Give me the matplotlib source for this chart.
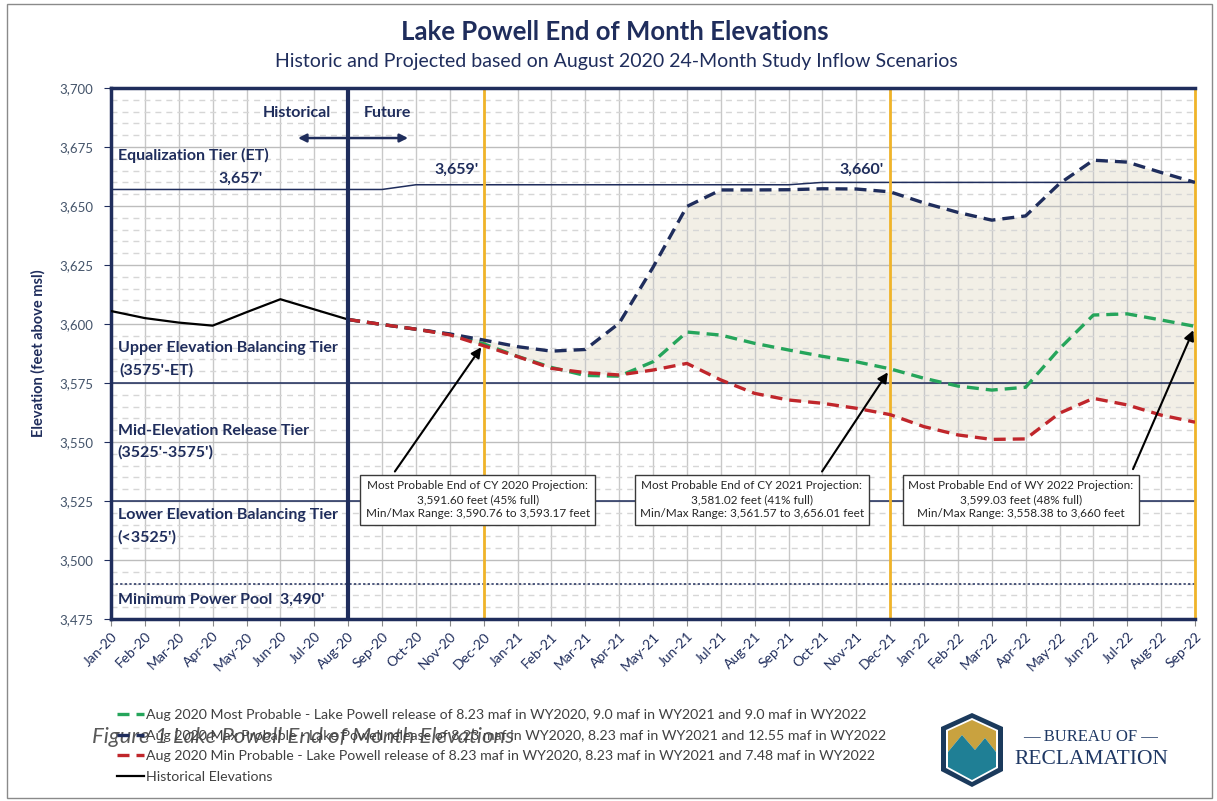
import numpy as np
import matplotlib
matplotlib.use("Agg")
import matplotlib.pyplot as plt
from matplotlib.patches import Polygon, Rectangle

plt.rcParams['font.family'] = ['Lato', 'DejaVu Sans']

# data
months = ['Jan-20', 'Feb-20', 'Mar-20', 'Apr-20', 'May-20', 'Jun-20', 'Jul-20', 'Aug-20',
          'Sep-20', 'Oct-20', 'Nov-20', 'Dec-20', 'Jan-21', 'Feb-21', 'Mar-21', 'Apr-21',
          'May-21', 'Jun-21', 'Jul-21', 'Aug-21', 'Sep-21', 'Oct-21', 'Nov-21', 'Dec-21',
          'Jan-22', 'Feb-22', 'Mar-22', 'Apr-22', 'May-22', 'Jun-22', 'Jul-22', 'Aug-22',
          'Sep-22']

hist_months = months[:8]
hist_elev = [3605.5, 3602.5, 3600.6, 3599.3, 3605.0, 3610.5, 3606.2, 3601.9]

proj_months = months[7:]
most_probable = [3601.9, 3599.8, 3597.8, 3595.6, 3591.6, 3586.3, 3581.6, 3578.2, 3577.9,
                 3584.0, 3596.6, 3595.3, 3591.8, 3589.0, 3586.3, 3584.0, 3581.0, 3577.0,
                 3573.7, 3572.0, 3573.2, 3589.5, 3603.8, 3604.3, 3601.7, 3599.0]
max_probable = [3601.9, 3599.8, 3597.8, 3595.8, 3593.2, 3590.4, 3588.5, 3589.2, 3600.3,
                3624.0, 3649.8, 3656.8, 3656.8, 3656.9, 3657.3, 3657.2, 3656.0, 3651.3,
                3647.3, 3644.0, 3645.8, 3659.5, 3669.4, 3668.6, 3664.2, 3660.0]
min_probable = [3601.9, 3599.8, 3597.8, 3595.4, 3590.8, 3586.2, 3581.2, 3579.4, 3578.4,
                3580.5, 3583.3, 3576.3, 3570.6, 3567.8, 3566.4, 3564.3, 3561.6, 3556.5,
                3553.0, 3551.1, 3551.3, 3562.2, 3568.5, 3565.7, 3561.4, 3558.4]

et_level = [3657] * 9 + [3659] * 12 + [3660] * 12
tier_upper = 3575
tier_lower = 3525
min_power_pool = 3490
yellow_months = ['Dec-20', 'Dec-21', 'Sep-22']
split_month = 'Aug-20'

callout_months = ['Dec-20', 'Dec-21', 'Sep-22']
callout_text = [
    "Most Probable End of CY 2020 Projection:\n3,591.60 feet (45% full)\nMin/Max Range: 3,590.76 to 3,593.17 feet",
    "Most Probable End of CY 2021 Projection:\n3,581.02 feet (41% full)\nMin/Max Range: 3,561.57 to 3,656.01 feet",
    "Most Probable End of WY 2022 Projection:\n3,599.03 feet (48% full)\nMin/Max Range: 3,558.38 to 3,660 feet",
]

legend_labels = [
    "Aug 2020 Most Probable - Lake Powell release of 8.23 maf in WY2020, 9.0 maf in WY2021 and 9.0 maf in WY2022",
    "Aug 2020 Max Probable - Lake Powell release of 8.23 maf in WY2020, 8.23 maf in WY2021 and 12.55 maf in WY2022",
    "Aug 2020 Min Probable - Lake Powell release of 8.23 maf in WY2020, 8.23 maf in WY2021 and 7.48 maf in WY2022",
    "Historical Elevations",
]

# layout / style
navy = '#1f2d5c'
green = '#25a55b'
red = '#c0262b'
gold = '#f0b429'
W, H = 1217, 801

idx = {m: i for i, m in enumerate(months)}
hx = [idx[m] for m in hist_months]
px = [idx[m] for m in proj_months]

fig = plt.figure(figsize=(W / 100, H / 100), dpi=100)
ax = fig.add_axes([111 / W, 1 - 619 / H, (1195 - 111) / W, (619 - 88) / H])
ax.set_xlim(0, len(months) - 1)
ax.set_ylim(3475, 3700)

ax.fill_between(px, min_probable, max_probable, color='#f2efe6', lw=0, zorder=0.3)

ax.set_xticks(range(len(months)))
ax.set_xticklabels(months, rotation=45, ha='right', rotation_mode='anchor')
ax.set_yticks(np.arange(3475, 3701, 25))
ax.set_yticks(np.arange(3475, 3701, 5), minor=True)
ax.yaxis.set_major_formatter(matplotlib.ticker.FuncFormatter(lambda v, p: f"{v:,.0f}"))
ax.set_axisbelow(True)
ax.grid(axis='x', color='#c8c8c8', lw=1)
ax.grid(axis='y', which='major', color='#bdbdbd', lw=1)
ax.grid(axis='y', which='minor', color='#d6d6d6', lw=1, ls=(0, (4.3, 3.6)))
ax.tick_params(axis='y', which='minor', length=0)
ax.tick_params(axis='y', which='major', labelsize=9.5, labelcolor='#44546a', color=navy,
               length=5, pad=8)
ax.tick_params(axis='x', labelsize=10, labelcolor=navy, color='#888888', length=5, pad=3)

for s in ['left', 'top', 'bottom']:
    ax.spines[s].set_color(navy)
    ax.spines[s].set_linewidth(2.5)
ax.spines['right'].set_visible(False)

# tier lines
ax.plot(range(len(months)), et_level, color=navy, lw=1.1, zorder=2)
ax.axhline(tier_upper, color=navy, lw=1.1, zorder=2)
ax.axhline(tier_lower, color=navy, lw=1.1, zorder=2)
ax.axhline(min_power_pool, color=navy, lw=1.1, ls=(0, (1.5, 1.5)), zorder=2)
for m in yellow_months:
    ax.axvline(idx[m], color=gold, lw=2, zorder=2.5, clip_on=False)
ax.axvline(idx[split_month], color=navy, lw=3, zorder=5)

# series
l_most, = ax.plot(px, most_probable, color=green, lw=2.4, dashes=(3.6, 2.1), zorder=4)
l_max, = ax.plot(px, max_probable, color=navy, lw=2.4, dashes=(3.6, 2.1), zorder=4)
l_min, = ax.plot(px, min_probable, color=red, lw=2.4, dashes=(3.6, 2.1), zorder=4)
l_hist, = ax.plot(hx, hist_elev, color='black', lw=1.6, zorder=4)

# tier labels
lab = dict(color=navy, fontweight='bold', fontsize=11.5, va='center', zorder=6)
ax.text(0.2, 3671.2, "Equalization Tier (ET)", **lab)
ax.text(3.84, 3661.4, "3,657'", ha='center', **lab)
ax.text(10.19, 3665.3, "3,659'", ha='center', **lab)
ax.text(22.17, 3665.3, "3,660'", ha='center', **lab)
ax.text(0.2, 3589.8, "Upper Elevation Balancing Tier", **lab)
ax.text(0.25, 3580.5, "(3575'-ET)", **lab)
ax.text(0.2, 3554.7, "Mid-Elevation Release Tier", **lab)
ax.text(0.2, 3545.8, "(3525'-3575')", **lab)
ax.text(0.2, 3519.1, "Lower Elevation Balancing Tier", **lab)
ax.text(0.2, 3509.7, "(<3525')", **lab)
ax.text(0.2, 3483.0, "Minimum Power Pool  3,490'", **lab)
ax.text(5.48, 3689.4, "Historical", ha='center', **lab)
ax.text(8.15, 3689.4, "Future", ha='center', **lab)
ax.annotate('', xy=(5.52, 3678.8), xytext=(8.77, 3678.8),
            arrowprops=dict(arrowstyle='<|-|>', color=navy, lw=1.8, mutation_scale=12,
                            shrinkA=0, shrinkB=0), zorder=6)

# callouts
box_pos = [(10.83, 3525.6), (18.92, 3525.6), (26.86, 3525.6)]
tail_pos = [(8.38, 3537.5), (20.99, 3537.5), (30.17, 3538.5)]
for m, txt, bp, tp in zip(callout_months, callout_text, box_pos, tail_pos):
    val = most_probable[proj_months.index(m)]
    ax.annotate('', xy=(idx[m], val), xytext=tp,
                arrowprops=dict(arrowstyle='-|>', color='black', lw=1.5, mutation_scale=15,
                                shrinkA=0, shrinkB=3), zorder=6)
    ax.text(bp[0], bp[1], txt, ha='center', va='center', fontsize=8.5, color='#262626',
            linespacing=1.35, zorder=7,
            bbox=dict(boxstyle='square,pad=0.45', fc='white', ec='#3a3a3a', lw=1))

# titles
fig.text(615 / W, 1 - 32 / H, "Lake Powell End of Month Elevations", ha='center', va='center',
         fontsize=18.5, fontweight='bold', color=navy)
fig.text(616 / W, 1 - 61 / H, "Historic and Projected based on August 2020 24-Month Study Inflow Scenarios",
         ha='center', va='center', fontsize=14, color=navy)
fig.text(38 / W, 1 - 353 / H, "Elevation (feet above msl)", rotation=90, ha='center', va='center',
         fontsize=10.5, fontweight='bold', color=navy)

fig.legend([l_most, l_max, l_min, l_hist], legend_labels, loc='upper left',
           bbox_to_anchor=(104 / W, 1 - 696 / H), frameon=False, fontsize=10.2,
           handlelength=1.9, handletextpad=0.2, labelspacing=0.62, labelcolor='#404040')

fig.text(92 / W, 1 - 737 / H, "Figure 1 Lake Powell End of Month Elevations", style='italic',
         fontsize=16, color='#595959', va='center')

# logo
def fp(pts):
    return [(x / W, 1 - y / H) for x, y in pts]

shield = [(972, 713), (1003, 727), (1003, 771), (972, 787), (941, 771), (941, 727)]
inner = [(972, 718), (998, 730), (998, 768), (972, 782), (946, 768), (946, 730)]
fig.patches.append(Polygon(fp(shield), closed=True, transform=fig.transFigure, fc='#1b3a5c', ec='none'))
fig.patches.append(Polygon(fp(inner), closed=True, transform=fig.transFigure, fc='white', ec='none'))
fig.patches.append(Polygon(fp([(948, 731), (972, 720), (996, 731), (996, 752), (985, 738), (975, 750),
                               (962, 735), (948, 752)]), closed=True, transform=fig.transFigure,
                           fc='#c9a23f', ec='none'))
fig.patches.append(Polygon(fp([(948, 752), (962, 735), (975, 750), (985, 738), (996, 752), (996, 767),
                               (972, 780), (948, 767)]), closed=True, transform=fig.transFigure,
                           fc='#1f7f95', ec='none'))
fig.text(1091 / W, 1 - 737 / H, "— BUREAU OF —", ha='center', va='center', fontsize=12,
         family='Liberation Serif', color='#1f3864')
fig.text(1091 / W, 1 - 759 / H, "RECLAMATION", ha='center', va='center', fontsize=15.5,
         family='Liberation Serif', color='#1f3864')

fig.patches.append(Rectangle((7 / W, 3 / H), 1205 / W, 794 / H, transform=fig.transFigure,
                             fill=False, ec='#8a8a8a', lw=1))

fig.savefig('out.png', dpi=100)
